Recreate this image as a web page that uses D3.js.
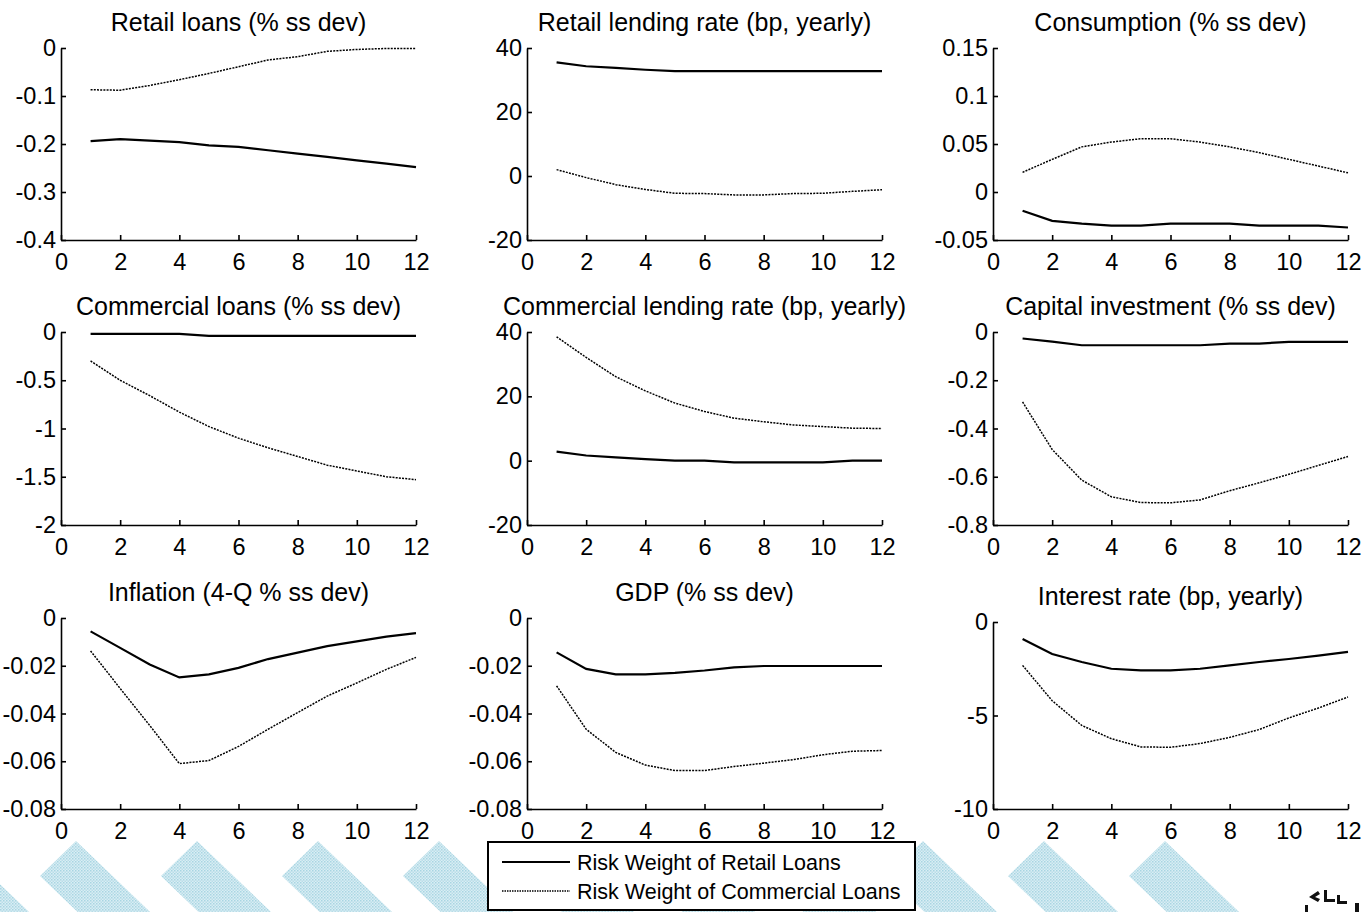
<!DOCTYPE html>
<html>
<head>
<meta charset="utf-8">
<script src="https://cdn.jsdelivr.net/npm/d3@7"></script>
<style>
body { margin: 0; background: #fff; }
svg { display: block; font-family: "Liberation Sans", Arial, sans-serif; }
.axis path, .axis line { stroke: #000; stroke-width: 1.6; }
.axis text { font-family: "Liberation Sans", Arial, sans-serif; font-size: 23.5px; fill: #000; }
.title { font-size: 25px; fill: #000; }
.legend-text { font-size: 21.5px; fill: #000; }
</style>
</head>
<body>
<div id="chart"></div>
<script>
var width = 1362,
    height = 912;

// quarters after the shock
var periods = [1, 2, 3, 4, 5, 6, 7, 8, 9, 10, 11, 12];
var xTickValues = [0, 2, 4, 6, 8, 10, 12];

var titles = [
  "Retail loans (% ss dev)", "Retail lending rate (bp, yearly)", "Consumption (% ss dev)",
  "Commercial loans (% ss dev)", "Commercial lending rate (bp, yearly)", "Capital investment (% ss dev)",
  "Inflation (4-Q % ss dev)", "GDP (% ss dev)", "Interest rate (bp, yearly)"
];
var seriesNames = ["Risk Weight of Retail Loans", "Risk Weight of Commercial Loans"];

// solid = risk weight of retail loans, dotted = risk weight of commercial loans
var retailLoansSolid = [-0.194, -0.190, -0.193, -0.196, -0.203, -0.206, -0.213, -0.220, -0.227, -0.234, -0.241, -0.248];
var retailLoansDotted = [-0.087, -0.088, -0.078, -0.066, -0.053, -0.039, -0.025, -0.018, -0.007, -0.003, -0.001, -0.001];
var retailRateSolid = [35.5, 34.3, 33.8, 33.2, 32.8, 32.8, 32.8, 32.8, 32.8, 32.8, 32.8, 32.8];
var retailRateDotted = [2.0, -0.5, -2.7, -4.2, -5.4, -5.5, -5.9, -5.9, -5.5, -5.4, -4.8, -4.3];
var consumptionSolid = [-0.0195, -0.030, -0.033, -0.035, -0.035, -0.033, -0.033, -0.033, -0.035, -0.035, -0.035, -0.037];
var consumptionDotted = [0.0205, 0.034, 0.047, 0.052, 0.0555, 0.0555, 0.052, 0.047, 0.041, 0.034, 0.027, 0.020];
var commLoansSolid = [-0.02, -0.02, -0.02, -0.02, -0.04, -0.04, -0.04, -0.04, -0.04, -0.04, -0.04, -0.04];
var commLoansDotted = [-0.30, -0.50, -0.66, -0.83, -0.98, -1.10, -1.20, -1.29, -1.38, -1.44, -1.50, -1.53];
var commRateSolid = [2.8, 1.6, 1.0, 0.5, 0.0, 0.0, -0.5, -0.5, -0.5, -0.5, 0.0, 0.0];
var commRateDotted = [38.5, 32.1, 26.1, 21.7, 17.9, 15.3, 13.2, 12.1, 11.1, 10.6, 10.1, 10.0];
var investmentSolid = [-0.027, -0.040, -0.055, -0.055, -0.055, -0.055, -0.055, -0.048, -0.048, -0.041, -0.041, -0.041];
var investmentDotted = [-0.29, -0.487, -0.614, -0.683, -0.707, -0.708, -0.696, -0.658, -0.625, -0.590, -0.553, -0.516];
var inflationSolid = [-0.0056, -0.0125, -0.0195, -0.0249, -0.0236, -0.0209, -0.0172, -0.0145, -0.0118, -0.0098, -0.0078, -0.0063];
var inflationDotted = [-0.0138, -0.0295, -0.045, -0.061, -0.0597, -0.0538, -0.0466, -0.0396, -0.0327, -0.0272, -0.0215, -0.0165];
var gdpSolid = [-0.0144, -0.0213, -0.0236, -0.0236, -0.0230, -0.0220, -0.0207, -0.0201, -0.0201, -0.0201, -0.0201, -0.0201];
var gdpDotted = [-0.0284, -0.0466, -0.0563, -0.0616, -0.0639, -0.0639, -0.0622, -0.0608, -0.0593, -0.0573, -0.0558, -0.0555];
var interestSolid = [-0.91, -1.71, -2.14, -2.50, -2.59, -2.59, -2.50, -2.32, -2.14, -1.98, -1.80, -1.60];
var interestDotted = [-2.32, -4.21, -5.53, -6.24, -6.68, -6.70, -6.50, -6.17, -5.75, -5.13, -4.60, -4.01];

var yDomains = [
  [-0.4, 0], [-20, 40], [-0.05, 0.15],
  [-2, 0], [-20, 40], [-0.8, 0],
  [-0.08, 0], [-0.08, 0], [-10, 0]
];
var yTickValues = [
  [-0.4, -0.3, -0.2, -0.1, 0], [-20, 0, 20, 40], [-0.05, 0, 0.05, 0.1, 0.15],
  [-2, -1.5, -1, -0.5, 0], [-20, 0, 20, 40], [-0.8, -0.6, -0.4, -0.2, 0],
  [-0.08, -0.06, -0.04, -0.02, 0], [-0.08, -0.06, -0.04, -0.02, 0], [-10, -5, 0]
];
var yTickLabels = [
  ["-0.4", "-0.3", "-0.2", "-0.1", "0"], ["-20", "0", "20", "40"], ["-0.05", "0", "0.05", "0.1", "0.15"],
  ["-2", "-1.5", "-1", "-0.5", "0"], ["-20", "0", "20", "40"], ["-0.8", "-0.6", "-0.4", "-0.2", "0"],
  ["-0.08", "-0.06", "-0.04", "-0.02", "0"], ["-0.08", "-0.06", "-0.04", "-0.02", "0"], ["-10", "-5", "0"]
];

var solidSeries = [retailLoansSolid, retailRateSolid, consumptionSolid, commLoansSolid, commRateSolid,
                   investmentSolid, inflationSolid, gdpSolid, interestSolid];
var dottedSeries = [retailLoansDotted, retailRateDotted, consumptionDotted, commLoansDotted, commRateDotted,
                    investmentDotted, inflationDotted, gdpDotted, interestDotted];

//grid of subplots
var colLeft = [61, 527, 993],
    plotWidth = 355;
var rowTop = [48, 332, 618],
    rowBottom = [240, 525, 809];

var svg = d3.select("#chart").append("svg")
  .attr("width", width)
  .attr("height", height);

//background watermark stripes
var defs = svg.append("defs");
var pat = defs.append("pattern")
  .attr("id", "hatch")
  .attr("width", 3)
  .attr("height", 3)
  .attr("patternUnits", "userSpaceOnUse");
pat.append("rect").attr("width", 3).attr("height", 3).attr("fill", "#d9eef4");
pat.append("rect").attr("width", 1.5).attr("height", 1.5).attr("fill", "#a8d5e2");
pat.append("rect").attr("x", 1.5).attr("y", 1.5).attr("width", 1.5).attr("height", 1.5).attr("fill", "#b9dde8");

var stripes = svg.append("g").attr("class", "stripes");
d3.range(0, 11).forEach(function(k) {
  var px = -45 + 121 * k;
  var pts = [[px, 841], [px - 36, 876], [px - 36 + 120, 876 + 115], [px + 120, 841 + 115]];
  stripes.append("polygon")
    .attr("points", pts.map(function(p) { return p.join(","); }).join(" "))
    .attr("fill", "url(#hatch)");
});

var lineStyles = {
  solid: {width: 2.2, dash: null},
  dotted: {width: 1.5, dash: "2,1.2"}
};

titles.forEach(function(title, i) {
  var col = i % 3,
      row = Math.floor(i / 3);
  var left = colLeft[col],
      right = left + plotWidth;
  var top = (i == 8) ? rowTop[row] + 4 : rowTop[row],
      bottom = rowBottom[row];

  var xScale = d3.scaleLinear().domain([0, 12]).range([left, right]);
  var yScale = d3.scaleLinear().domain(yDomains[i]).range([bottom, top]);

  var g = svg.append("g").attr("class", "panel");

  g.append("text")
    .attr("class", "title")
    .attr("x", (left + right) / 2)
    .attr("y", top - 17)
    .attr("text-anchor", "middle")
    .text(title);

  //axes with inward ticks, matlab style
  g.append("g")
    .attr("class", "axis")
    .attr("transform", "translate(0," + bottom + ")")
    .call(d3.axisBottom(xScale)
      .tickValues(xTickValues)
      .tickFormat(d3.format("d"))
      .tickSizeInner(-5)
      .tickSizeOuter(0)
      .tickPadding(13));

  var labels = yTickLabels[i];
  g.append("g")
    .attr("class", "axis")
    .attr("transform", "translate(" + left + ",0)")
    .call(d3.axisLeft(yScale)
      .tickValues(yTickValues[i])
      .tickFormat(function(d, j) { return labels[j]; })
      .tickSizeInner(-5)
      .tickSizeOuter(0)
      .tickPadding(5));

  var line = d3.line()
    .x(function(d, j) { return xScale(periods[j]); })
    .y(function(d) { return yScale(d); });

  [["dotted", dottedSeries[i]], ["solid", solidSeries[i]]].forEach(function(s) {
    var st = lineStyles[s[0]];
    g.append("path")
      .datum(s[1])
      .attr("d", line)
      .attr("fill", "none")
      .attr("stroke", "#000")
      .attr("stroke-width", st.width)
      .attr("stroke-dasharray", st.dash);
  });
});

//legend
var legend = svg.append("g").attr("class", "legend");
legend.append("rect")
  .attr("x", 488)
  .attr("y", 842)
  .attr("width", 427)
  .attr("height", 68)
  .attr("fill", "#fff")
  .attr("stroke", "#000")
  .attr("stroke-width", 2);
["solid", "dotted"].forEach(function(key, j) {
  var st = lineStyles[key];
  var ly = 862 + j * 29;
  legend.append("line")
    .attr("x1", 502).attr("x2", 570)
    .attr("y1", ly).attr("y2", ly)
    .attr("stroke", "#000")
    .attr("stroke-width", key == "solid" ? 2 : 1.3)
    .attr("stroke-dasharray", key == "solid" ? null : "1.5,1");
  legend.append("text")
    .attr("class", "legend-text")
    .attr("x", 577)
    .attr("y", ly)
    .attr("dy", "0.36em")
    .text(seriesNames[j]);
});

//corner logo fragment
var logo = svg.append("g").attr("fill", "#111");
logo.append("path").attr("d", "M1318,891 L1309,897 L1318,902 L1320,899 L1315,897 L1320,894 Z");
logo.append("path").attr("d", "M1324,890 L1327,890 L1327,899 L1335,899 L1335,902 L1324,902 Z");
logo.append("path").attr("d", "M1337,895 L1340,895 L1340,901 L1347,901 L1347,904 L1337,904 Z");
logo.append("rect").attr("x", 1305).attr("y", 905).attr("width", 3).attr("height", 7);
logo.append("rect").attr("x", 1355).attr("y", 903).attr("width", 4).attr("height", 9);
</script>
</body>
</html>
